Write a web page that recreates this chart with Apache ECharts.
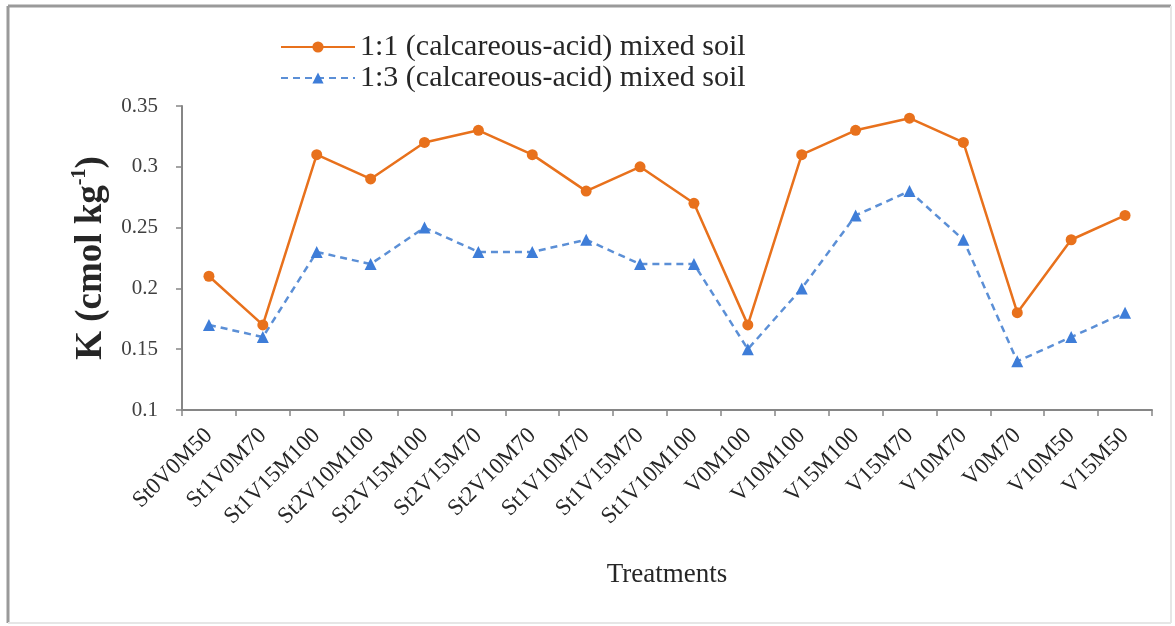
<!DOCTYPE html>
<html>
<head>
<meta charset="utf-8">
<script src="https://cdn.jsdelivr.net/npm/echarts@6/dist/echarts.min.js"></script>
<style>
  html, body { margin: 0; padding: 0; background: #fff; }
  #chart { width: 1175px; height: 626px; }
</style>
</head>
<body>
<div id="chart"></div>
<script>
// Treatments along the x axis
const treatments = [
  'St0V0M50', 'St1V0M70', 'St1V15M100', 'St2V10M100', 'St2V15M100',
  'St2V15M70', 'St2V10M70', 'St1V10M70', 'St1V15M70', 'St1V10M100',
  'V0M100', 'V10M100', 'V15M100', 'V15M70', 'V10M70',
  'V0M70', 'V10M50', 'V15M50'
];

// Exchangeable K (cmol kg-1) for each mixing ratio
const mix11 = [0.21, 0.17, 0.31, 0.29, 0.32, 0.33, 0.31, 0.28, 0.30, 0.27,
               0.17, 0.31, 0.33, 0.34, 0.32, 0.18, 0.24, 0.26];
const mix13 = [0.17, 0.16, 0.23, 0.22, 0.25, 0.23, 0.23, 0.24, 0.22, 0.22,
               0.15, 0.20, 0.26, 0.28, 0.24, 0.14, 0.16, 0.18];

const seriesNames = [
  '1:1 (calcareous-acid) mixed soil',
  '1:3 (calcareous-acid) mixed soil'
];

const serif = '"Liberation Serif", "Times New Roman", serif';
const axisGrey = '#868686';
const textDark = '#262626';

const chart = echarts.init(document.getElementById('chart'), null, { renderer: 'canvas' });

chart.setOption({
  backgroundColor: '#ffffff',
  animation: false,
  textStyle: { fontFamily: serif },
  graphic: [
    // outer frame: strong on the top/left, faint on the right/bottom
    { type: 'line', shape: { x1: 8, y1: 6, x2: 1171, y2: 6 }, style: { stroke: '#9a9a9a', lineWidth: 3 } },
    { type: 'line', shape: { x1: 8, y1: 6, x2: 8, y2: 623 }, style: { stroke: '#9a9a9a', lineWidth: 3 } },
    { type: 'line', shape: { x1: 1171, y1: 6, x2: 1171, y2: 623 }, style: { stroke: '#e6e6e6', lineWidth: 2 } },
    { type: 'line', shape: { x1: 8, y1: 623, x2: 1171, y2: 623 }, style: { stroke: '#e6e6e6', lineWidth: 2 } }
  ],
  legend: {
    orient: 'vertical',
    left: 275,
    top: 27,
    itemWidth: 74,
    itemHeight: 14,
    itemGap: 1,
    textStyle: { fontFamily: serif, fontSize: 30, color: textDark },
    data: seriesNames
  },
  grid: { left: 182, right: 23, top: 106, bottom: 216, containLabel: false },
  xAxis: {
    type: 'category',
    data: treatments,
    boundaryGap: true,
    name: 'Treatments',
    nameLocation: 'middle',
    nameGap: 151,
    nameTextStyle: { fontFamily: serif, fontSize: 27, color: textDark },
    axisLine: { lineStyle: { color: axisGrey, width: 2 } },
    axisTick: { show: true, length: 6, alignWithLabel: false, lineStyle: { color: axisGrey, width: 1.5 } },
    axisLabel: {
      interval: 0,
      rotate: 45,
      margin: 22,
      fontFamily: serif,
      fontSize: 23,
      color: textDark
    },
    splitLine: { show: false }
  },
  yAxis: {
    type: 'value',
    min: 0.1,
    max: 0.35,
    interval: 0.05,
    name: '{b|K (cmol kg}{s|-1}{b|)}',
    nameLocation: 'middle',
    nameRotate: 90,
    nameGap: 70,
    nameTextStyle: {
      rich: {
        b: { fontFamily: serif, fontSize: 37, fontWeight: 'bold', color: textDark, lineHeight: 42 },
        s: { fontFamily: serif, fontSize: 20, fontWeight: 'bold', color: textDark, verticalAlign: 'top', lineHeight: 42 }
      }
    },
    axisLine: { show: true, lineStyle: { color: axisGrey, width: 2 } },
    axisTick: { show: true, length: 6, lineStyle: { color: axisGrey, width: 1.5 } },
    axisLabel: {
      margin: 24,
      fontFamily: serif,
      fontSize: 21,
      color: '#404040',
      formatter: v => String(parseFloat(v.toFixed(2)))
    },
    splitLine: { show: false }
  },
  series: [
    {
      name: seriesNames[0],
      type: 'line',
      data: mix11,
      symbol: 'circle',
      symbolSize: 11,
      lineStyle: { color: '#E8711C', width: 2.5 },
      itemStyle: { color: '#E8711C' }
    },
    {
      name: seriesNames[1],
      type: 'line',
      data: mix13,
      symbol: 'triangle',
      symbolSize: 12,
      lineStyle: { color: '#5B8FD6', width: 2.5, type: [7, 5] },
      itemStyle: { color: '#3E7DD8' }
    }
  ]
});
</script>
</body>
</html>
